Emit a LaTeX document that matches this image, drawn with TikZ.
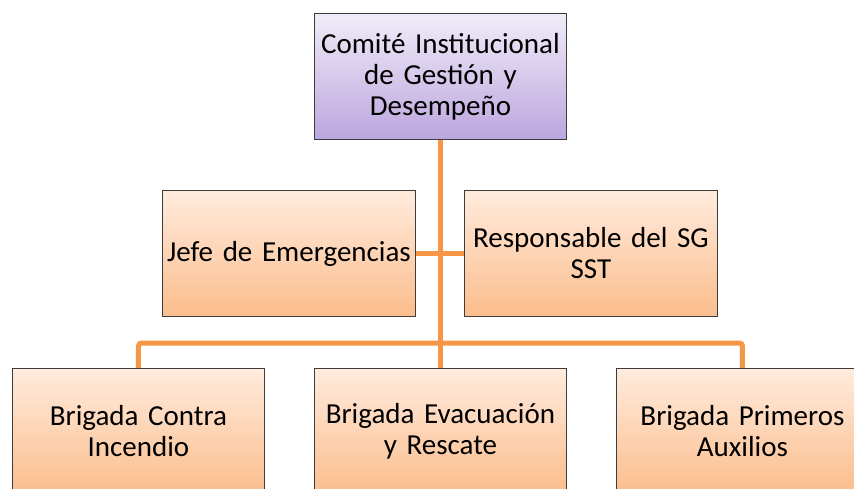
\documentclass[tikz,border=0pt]{standalone}
\usepackage{fontspec}
\setmainfont[WordSpace=0.7]{Carlito}
\usetikzlibrary{backgrounds}
\definecolor{conn}{HTML}{F79646}
\definecolor{boxline}{HTML}{3C3C3C}
\definecolor{lavtop}{HTML}{F0ECF8}
\definecolor{lavbot}{HTML}{BCA6DE}
\definecolor{ortop}{HTML}{FFEBDD}
\definecolor{orbot}{HTML}{FBBD8C}
\tikzset{
  orgbox/.style={draw=boxline, line width=0.9pt, rectangle, inner sep=0pt,
    minimum height=126pt, text width=252pt, align=center,
    font=\fontsize{29}{31}\selectfont, anchor=north west},
  lavbox/.style={orgbox, top color=lavtop, bottom color=lavbot},
  orbox/.style={orgbox, top color=ortop, bottom color=orbot},
  link/.style={draw=conn, line width=5pt}
}
\begin{document}
\begin{tikzpicture}[x=1pt,y=-1pt]
\useasboundingbox (0,0) rectangle (854,489);
\clip (0,0) rectangle (854,489);
\node[lavbox] (top) at (314,13) {Comité Institucional\\de Gestión y\\Desempeño};
\node[orbox, text width=253pt] (jefe) at (162,190) {Jefe de Emergencias};
\node[orbox, text width=253pt] (resp) at (464,190) {Responsable del SG\\SST};
\node[orbox] (bc) at (12,368) {Brigada Contra\\Incendio};
\node[orbox] (be) at (314,368) {Brigada Evacuación\\y Rescate};
\node[orbox] (bp) at (616,368) {Brigada Primeros\\Auxilios};
\coordinate (bus) at (440,343);
\begin{scope}[on background layer]
\fill[white] (0,0) rectangle (854,489);
\draw[link] (top.south) -- (be.north);
\draw[link] (jefe.east) -- (resp.west);
\draw[link, rounded corners=3pt] (bc.north) |- (bus) -| (bp.north);
\end{scope}
\end{tikzpicture}
\end{document}
